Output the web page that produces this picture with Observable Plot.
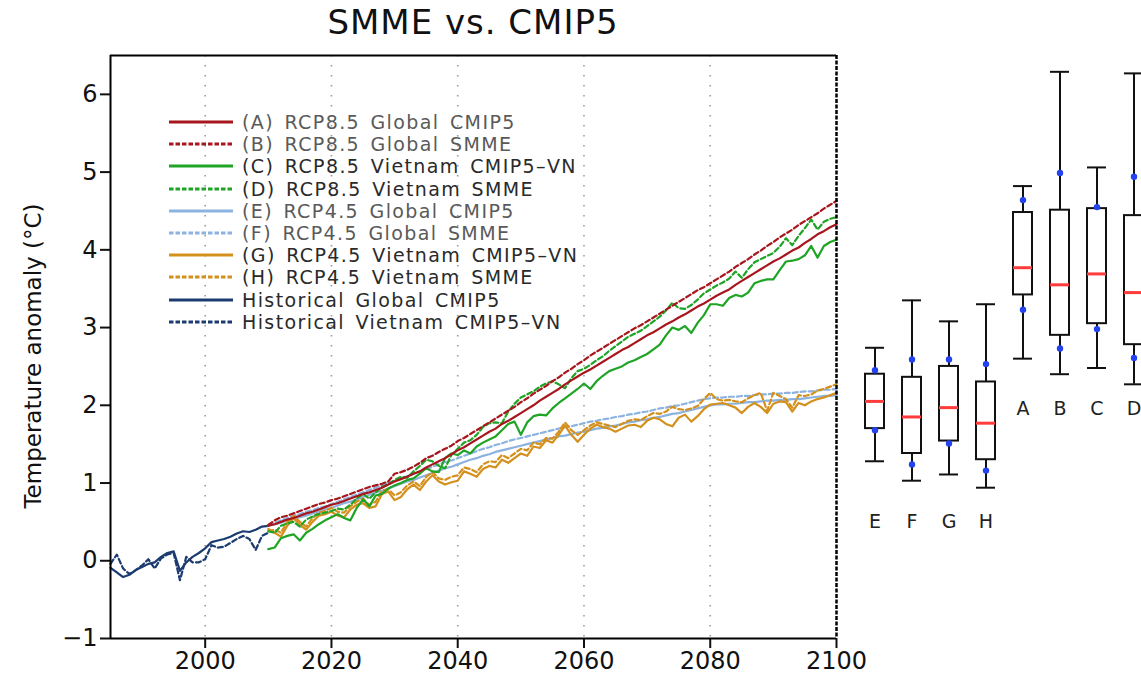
<!DOCTYPE html>
<html><head><meta charset="utf-8">
<script src="https://cdn.jsdelivr.net/npm/d3@7"></script>
<script src="https://cdn.jsdelivr.net/npm/@observablehq/plot@0.6"></script>
<style>
html,body{margin:0;padding:0;background:#fff;}
#wrap{position:relative;width:1141px;height:677px;overflow:hidden;font-family:"DejaVu Sans",sans-serif;background:#fff;}
#wrap svg{position:absolute;top:0;background:none;}
#title{position:absolute;left:0;width:946px;top:2px;text-align:center;font-size:34px;letter-spacing:1px;color:#111;}
#legend{position:absolute;left:169px;top:111px;}
.row{display:flex;align-items:center;height:22.2px;}
.row span{font-size:19px;letter-spacing:1.4px;word-spacing:3px;color:#2a2a2a;margin-left:9px;white-space:pre;}
.row span.light{color:#5a5a5a;}
.main g[aria-label$="tick"] path{stroke-width:2px;}
</style></head>
<body><div id="wrap"><div id="title">SMME vs. CMIP5</div></div>
<script>
// ---------- data ----------
const histYears = d3.range(1985, 2011);
const futureYears = d3.range(2010, 2101);

const histGlobal = [-0.09,-0.15,-0.21,-0.18,-0.12,-0.08,-0.04,-0.02,0.05,0.10,0.12,-0.13,-0.02,0.05,0.10,0.16,0.24,0.26,0.28,0.31,0.35,0.38,0.37,0.40,0.44,0.45];
const histVietnam = [-0.04,0.08,-0.10,-0.17,-0.12,-0.06,0.02,-0.10,0.03,0.08,0.10,-0.25,0.05,-0.02,-0.02,0.02,0.20,0.17,0.18,0.23,0.28,0.32,0.28,0.14,0.32,0.36];

// (A) RCP8.5 Global CMIP5
const rcp85GlobalCMIP5 = [0.45,0.47,0.50,0.53,0.55,0.58,0.61,0.63,0.66,0.69,
0.72,0.74,0.77,0.80,0.83,0.86,0.88,0.91,0.94,0.98,
1.02,1.05,1.08,1.12,1.15,1.20,1.24,1.28,1.32,1.37,
1.42,1.46,1.51,1.56,1.61,1.66,1.70,1.76,1.80,1.85,
1.90,1.95,2.00,2.06,2.11,2.16,2.21,2.27,2.32,2.37,
2.42,2.46,2.51,2.56,2.61,2.66,2.71,2.75,2.80,2.85,
2.90,2.94,2.99,3.04,3.08,3.13,3.17,3.22,3.27,3.31,
3.36,3.41,3.45,3.49,3.55,3.60,3.65,3.70,3.75,3.80,
3.85,3.89,3.94,3.99,4.03,4.09,4.14,4.20,4.24,4.29,
4.33];
// (B) RCP8.5 Global SMME
const rcp85GlobalSMME = [0.46,0.52,0.56,0.58,0.61,0.64,0.67,0.70,0.73,0.75,
0.78,0.80,0.83,0.86,0.89,0.92,0.95,0.97,0.99,1.02,
1.12,1.14,1.17,1.21,1.26,1.32,1.35,1.40,1.44,1.48,
1.54,1.58,1.63,1.68,1.73,1.78,1.83,1.88,1.93,1.98,
2.04,2.09,2.15,2.20,2.25,2.31,2.36,2.42,2.47,2.53,
2.58,2.64,2.69,2.74,2.79,2.84,2.89,2.94,2.99,3.03,
3.08,3.13,3.18,3.23,3.28,3.33,3.38,3.43,3.48,3.52,
3.57,3.62,3.67,3.72,3.78,3.83,3.88,3.94,3.99,4.05,
4.10,4.16,4.21,4.26,4.32,4.37,4.42,4.47,4.53,4.58,
4.63];
// (C) RCP8.5 Vietnam CMIP5-VN
const rcp85VietnamCMIP5 = [0.15,0.17,0.29,0.32,0.34,0.26,0.36,0.41,0.47,0.52,
0.56,0.60,0.55,0.52,0.68,0.79,0.70,0.84,0.86,0.93,
0.97,1.00,1.04,1.06,1.12,1.19,1.15,1.14,1.32,1.38,
1.36,1.42,1.38,1.47,1.52,1.56,1.60,1.68,1.76,1.79,
1.62,1.78,1.86,1.88,1.87,1.96,2.03,2.09,2.15,2.21,
2.28,2.21,2.31,2.38,2.44,2.47,2.50,2.55,2.58,2.62,
2.66,2.72,2.78,2.90,3.00,2.97,3.02,2.93,3.06,3.16,
3.30,3.30,3.28,3.38,3.42,3.40,3.45,3.57,3.60,3.62,
3.62,3.74,3.85,3.86,3.88,3.93,4.05,3.90,4.05,4.10,
4.13];
// (D) RCP8.5 Vietnam SMME
const rcp85VietnamSMME = [0.38,0.36,0.45,0.48,0.50,0.44,0.53,0.57,0.60,0.62,
0.64,0.67,0.66,0.72,0.80,0.86,0.80,0.88,0.95,0.98,
1.04,1.08,1.07,1.15,1.22,1.30,1.28,1.22,1.19,1.36,
1.44,1.52,1.55,1.62,1.72,1.77,1.78,1.77,1.92,2.02,
2.10,2.14,2.18,2.24,2.28,2.31,2.27,2.22,2.35,2.44,
2.47,2.52,2.58,2.63,2.70,2.76,2.82,2.88,2.92,2.96,
3.02,3.08,3.14,3.22,3.32,3.25,3.24,3.29,3.36,3.44,
3.49,3.54,3.58,3.63,3.72,3.64,3.75,3.84,3.88,3.92,
3.96,4.04,4.15,4.06,4.18,4.28,4.39,4.26,4.36,4.40,
4.42];
// (E) RCP4.5 Global CMIP5
const rcp45GlobalCMIP5 = [0.45,0.47,0.49,0.52,0.54,0.56,0.58,0.61,0.63,0.66,
0.68,0.71,0.74,0.76,0.79,0.82,0.85,0.88,0.90,0.93,
0.96,0.99,1.02,1.04,1.07,1.10,1.13,1.16,1.19,1.21,
1.24,1.27,1.30,1.32,1.35,1.37,1.40,1.42,1.44,1.46,
1.48,1.50,1.52,1.54,1.56,1.58,1.60,1.61,1.63,1.65,
1.66,1.68,1.70,1.71,1.73,1.74,1.76,1.78,1.79,1.81,
1.82,1.84,1.85,1.87,1.89,1.90,1.92,1.94,1.96,1.98,
2.00,2.01,2.01,2.02,2.02,2.03,2.04,2.04,2.05,2.06,
2.06,2.07,2.07,2.08,2.08,2.09,2.10,2.11,2.12,2.12,
2.13];
// (F) RCP4.5 Global SMME
const rcp45GlobalSMME = [0.46,0.49,0.52,0.55,0.58,0.60,0.63,0.65,0.68,0.70,
0.73,0.76,0.79,0.82,0.85,0.88,0.91,0.94,0.97,1.00,
1.03,1.06,1.09,1.12,1.15,1.18,1.21,1.24,1.27,1.29,
1.32,1.35,1.38,1.41,1.44,1.46,1.49,1.51,1.54,1.56,
1.58,1.60,1.62,1.64,1.66,1.68,1.70,1.72,1.73,1.75,
1.77,1.79,1.80,1.82,1.83,1.85,1.86,1.88,1.89,1.91,
1.92,1.94,1.96,1.97,1.99,2.00,2.02,2.04,2.06,2.08,
2.09,2.10,2.10,2.11,2.11,2.12,2.12,2.13,2.14,2.14,
2.15,2.15,2.16,2.16,2.17,2.18,2.18,2.19,2.20,2.20,
2.21];
// (G) RCP4.5 Vietnam CMIP5-VN
const rcp45VietnamCMIP5 = [0.41,0.36,0.31,0.45,0.55,0.46,0.40,0.50,0.58,0.60,
0.63,0.58,0.56,0.66,0.72,0.74,0.68,0.70,0.86,0.89,
0.78,0.82,0.92,0.98,0.91,1.02,1.10,1.02,0.98,1.01,
1.03,1.15,1.12,1.08,1.18,1.22,1.20,1.30,1.26,1.32,
1.38,1.35,1.47,1.45,1.55,1.52,1.62,1.74,1.62,1.53,
1.62,1.70,1.75,1.72,1.70,1.66,1.70,1.74,1.75,1.72,
1.80,1.84,1.82,1.76,1.73,1.84,1.88,1.79,1.86,1.95,
2.01,2.02,2.03,2.00,1.97,1.90,1.98,2.03,1.98,1.90,
2.02,2.05,2.04,1.92,2.03,2.00,2.05,2.08,2.10,2.13,
2.16];
// (H) RCP4.5 Vietnam SMME
const rcp45VietnamSMME = [0.38,0.40,0.36,0.50,0.58,0.50,0.44,0.55,0.62,0.64,
0.68,0.63,0.62,0.70,0.76,0.80,0.72,0.76,0.90,0.92,
0.84,0.88,0.97,1.02,0.96,1.08,1.14,1.06,1.04,1.08,
1.10,1.20,1.18,1.14,1.24,1.28,1.27,1.36,1.32,1.38,
1.44,1.42,1.52,1.50,1.58,1.57,1.66,1.78,1.68,1.62,
1.68,1.74,1.78,1.76,1.74,1.72,1.76,1.80,1.82,1.81,
1.86,1.90,1.89,1.92,1.98,1.95,1.94,1.96,1.99,2.08,
2.16,2.08,2.06,2.07,2.05,2.04,2.09,2.13,2.16,1.93,
2.16,2.12,2.08,1.97,2.13,2.12,2.14,2.19,2.21,2.24,
2.27];

// box-plot statistics, categories in drawing order
const boxCats      = ["E","F","G","H","A","B","C","D"];
const boxWhiskerHi = [2.74,3.35,3.08,3.30,4.82,6.29,5.06,6.27];
const boxQ3        = [2.40,2.36,2.50,2.30,4.48,4.51,4.53,4.44];
const boxMedian    = [2.05,1.85,1.97,1.77,3.77,3.55,3.69,3.45];
const boxQ1        = [1.70,1.38,1.54,1.30,3.42,2.90,3.05,2.78];
const boxWhiskerLo = [1.28,1.03,1.11,0.94,2.60,2.40,2.48,2.27];
const boxP90       = [2.45,2.59,2.59,2.53,4.64,4.99,4.55,4.94];
const boxP10       = [1.68,1.24,1.51,1.16,3.23,2.73,2.98,2.61];
const boxLabelLevel = {"RCP4.5": 0.5, "RCP8.5": 1.96};
const boxScenario  = ["RCP4.5","RCP4.5","RCP4.5","RCP4.5","RCP8.5","RCP8.5","RCP8.5","RCP8.5"];

const xDomain = [1985, 2100];
const yDomain = [-1, 6.5];
const xTicks = [2000, 2020, 2040, 2060, 2080, 2100];
const yTicks = [-1, 0, 1, 2, 3, 4, 5, 6];
const gridYears = [2000, 2020, 2040, 2060, 2080];
const yLabel = "Temperature anomaly (°C)";

// ---------- series definitions ----------
const series = [
  {key:"A", label:"(A) RCP8.5 Global CMIP5",      years: futureYears, values: rcp85GlobalCMIP5,  color:"#a8161d", dashed:false, light:true},
  {key:"B", label:"(B) RCP8.5 Global SMME",       years: futureYears, values: rcp85GlobalSMME,   color:"#a8161d", dashed:true,  light:true},
  {key:"C", label:"(C) RCP8.5 Vietnam CMIP5\u2013VN", years: futureYears, values: rcp85VietnamCMIP5, color:"#1fa425", dashed:false},
  {key:"D", label:"(D) RCP8.5 Vietnam SMME",      years: futureYears, values: rcp85VietnamSMME,  color:"#1fa425", dashed:true},
  {key:"E", label:"(E) RCP4.5 Global CMIP5",      years: futureYears, values: rcp45GlobalCMIP5,  color:"#8cb3e0", dashed:false, light:true},
  {key:"F", label:"(F) RCP4.5 Global SMME",       years: futureYears, values: rcp45GlobalSMME,   color:"#8cb3e0", dashed:true,  light:true},
  {key:"G", label:"(G) RCP4.5 Vietnam CMIP5\u2013VN", years: futureYears, values: rcp45VietnamCMIP5, color:"#d4901c", dashed:false},
  {key:"H", label:"(H) RCP4.5 Vietnam SMME",      years: futureYears, values: rcp45VietnamSMME,  color:"#d4901c", dashed:true},
  {key:"HG", label:"Historical Global CMIP5",      years: histYears,   values: histGlobal,        color:"#1c3b71", dashed:false},
  {key:"HV", label:"Historical Vietnam CMIP5\u2013VN", years: histYears, values: histVietnam,     color:"#1c3b71", dashed:true}
];
const drawOrder = ["HV","HG","E","F","G","H","C","D","A","B"];
const DASH = "5,3";

const lineMarks = drawOrder.map(k => {
  const s = series.find(d => d.key === k);
  const rows = s.years.map((y, i) => ({year: y, value: s.values[i]}));
  return Plot.line(rows, {x: "year", y: "value", stroke: s.color, strokeWidth: 2.2,
    strokeDasharray: s.dashed ? DASH : null, strokeLinejoin: "round"});
});

const main = Plot.plot({
  width: 880, height: 677,
  marginLeft: 110, marginRight: 44, marginTop: 55, marginBottom: 39,
  style: {fontFamily: "DejaVu Sans", fontSize: "24px", color: "#111", background: "none", overflow: "visible"},
  x: {domain: xDomain, ticks: xTicks, tickFormat: "d", tickSize: 10, tickPadding: 3, label: null},
  y: {domain: yDomain, ticks: yTicks, tickSize: 10, tickPadding: 3, label: null},
  marks: [
    Plot.ruleX(gridYears, {stroke: "#9a9a9a", strokeWidth: 1.6, strokeDasharray: "1.5,8.5"}),
    ...lineMarks,
    Plot.ruleY([yDomain[0]], {stroke: "black", strokeWidth: 2}),
    Plot.ruleY([yDomain[1]], {stroke: "black", strokeWidth: 2}),
    Plot.ruleX([xDomain[0]], {stroke: "black", strokeWidth: 2}),
    Plot.ruleX([xDomain[1]], {stroke: "black", strokeWidth: 2.5, strokeDasharray: "4,1.5"}),
    Plot.text([yLabel], {frameAnchor: "left", textAnchor: "middle", lineAnchor: "middle", rotate: -90, dx: -77, dy: 9, fontSize: 23, fill: "#111"})
  ]
});
main.classList.add("main");
main.style.left = "0px";

const boxes = boxCats.map((c, i) => ({
  cat: c, hi: boxWhiskerHi[i], q3: boxQ3[i], med: boxMedian[i], q1: boxQ1[i], lo: boxWhiskerLo[i],
  p90: boxP90[i], p10: boxP10[i], labelY: boxLabelLevel[boxScenario[i]]
}));

const boxPlot = Plot.plot({
  width: 301, height: 677,
  marginTop: 55, marginBottom: 39, marginLeft: 0, marginRight: 0,
  style: {fontFamily: "DejaVu Sans", fontSize: "19px", color: "#111", background: "none", overflow: "visible"},
  x: {type: "band", domain: boxCats, range: [5, 322], padding: 0.49, axis: null},
  y: {domain: yDomain, axis: null},
  marks: [
    Plot.ruleX(boxes, {x: "cat", y1: "lo", y2: "hi", stroke: "#111", strokeWidth: 2}),
    Plot.tickY(boxes, {x: "cat", y: "lo", stroke: "#111", strokeWidth: 2}),
    Plot.tickY(boxes, {x: "cat", y: "hi", stroke: "#111", strokeWidth: 2}),
    Plot.barY(boxes, {x: "cat", y1: "q1", y2: "q3", fill: "white", stroke: "#111", strokeWidth: 2}),
    Plot.tickY(boxes, {x: "cat", y: "med", stroke: "#ff3b3b", strokeWidth: 3}),
    Plot.dot(boxes, {x: "cat", y: "p90", fill: "#2342f0", r: 3.2}),
    Plot.dot(boxes, {x: "cat", y: "p10", fill: "#2342f0", r: 3.2}),
    Plot.text(boxes, {x: "cat", y: "labelY", text: "cat", fontSize: 19, fill: "#222"})
  ]
});
boxPlot.style.left = "840px";

const wrap = document.getElementById("wrap");
wrap.appendChild(main);
wrap.appendChild(boxPlot);

// legend (inside the plot area, as in the original)
const legend = document.createElement("div");
legend.id = "legend";
series.forEach(s => {
  const row = document.createElement("div");
  row.className = "row";
  const sw = document.createElementNS("http://www.w3.org/2000/svg", "svg");
  sw.setAttribute("width", 64); sw.setAttribute("height", 8);
  sw.style.position = "static";
  const ln = document.createElementNS("http://www.w3.org/2000/svg", "line");
  ln.setAttribute("x1", 0); ln.setAttribute("x2", 64); ln.setAttribute("y1", 4); ln.setAttribute("y2", 4);
  ln.setAttribute("stroke", s.color); ln.setAttribute("stroke-width", 3);
  if (s.dashed) ln.setAttribute("stroke-dasharray", "4.5,2");
  sw.appendChild(ln);
  const tx = document.createElement("span");
  tx.textContent = s.label;
  if (s.light) tx.className = "light";
  row.appendChild(sw); row.appendChild(tx);
  legend.appendChild(row);
});
wrap.appendChild(legend);
</script>
</body></html>
